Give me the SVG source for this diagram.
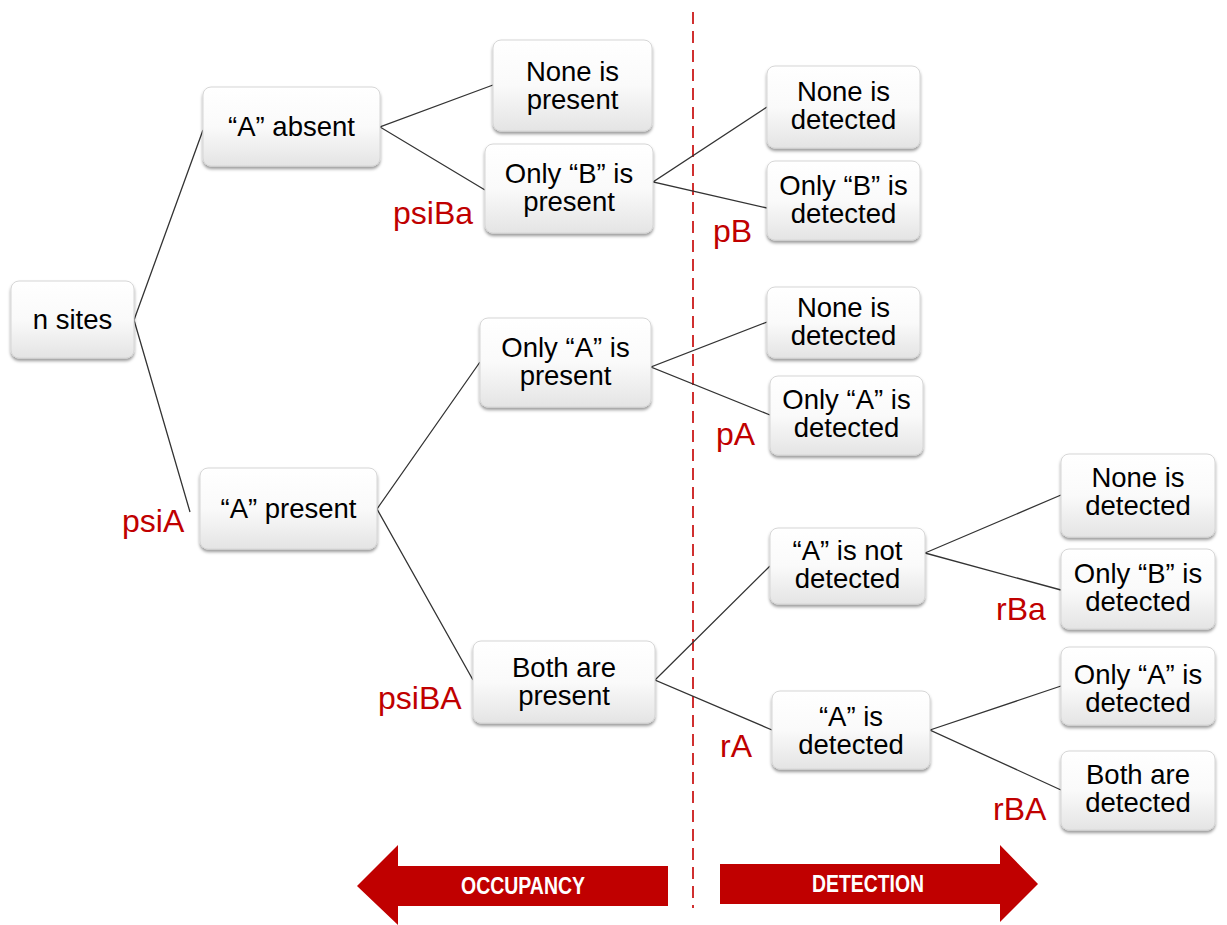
<svg xmlns="http://www.w3.org/2000/svg" width="1227" height="925" viewBox="0 0 1227 925">
<defs>
<linearGradient id="g" x1="0" y1="0" x2="0" y2="1">
<stop offset="0" stop-color="#ffffff"/>
<stop offset="0.5" stop-color="#fafafa"/>
<stop offset="1" stop-color="#e4e4e4"/>
</linearGradient>
<filter id="sh" x="-10%" y="-10%" width="120%" height="130%">
<feDropShadow dx="0" dy="2.5" stdDeviation="1.5" flood-color="#000" flood-opacity="0.4"/>
</filter>
</defs>
<style>
.box{fill:url(#g);stroke:#d6d6d6;stroke-width:1;filter:url(#sh)}
.t{font-family:"Liberation Sans",Arial,sans-serif;font-size:27.5px;fill:#000;text-anchor:middle}
.lab{font-family:"Liberation Sans",Arial,sans-serif;font-size:32px;fill:#c00000}
.c{stroke:#333;stroke-width:1.3;fill:none}
.ar{fill:#c00000}
.at{font-family:"Liberation Sans",Arial,sans-serif;font-size:23px;font-weight:bold;fill:#fff;text-anchor:middle}
</style>
<rect width="1227" height="925" fill="#fff"/>
<line x1="693" y1="12" x2="693" y2="908" stroke="#d03030" stroke-width="2" stroke-dasharray="12,7"/>
<g id="connectors">
<polyline class="c" points="203,130 134,320 190,512"/>
<polyline class="c" points="493,85 380,127 485,190"/>
<polyline class="c" points="767,107 653,182 767,208"/>
<polyline class="c" points="480,362 377,509 473,680"/>
<polyline class="c" points="767,322 651,367 770,415"/>
<polyline class="c" points="770,566 655,680 772,730"/>
<polyline class="c" points="1061,495 925,553 1061,590"/>
<polyline class="c" points="1061,686 930,730 1061,790"/>
</g>
<g id="n-sites"><rect class="box" x="11" y="281" width="123" height="77" rx="8"/><text class="t" x="72.5" y="329">n sites</text></g>
<g id="a-absent"><rect class="box" x="203" y="87" width="177" height="79" rx="8"/><text class="t" x="291.5" y="136">“A” absent</text></g>
<g id="a-present"><rect class="box" x="200" y="468" width="177" height="81" rx="8"/><text class="t" x="288.5" y="518">“A” present</text></g>
<g id="none-present"><rect class="box" x="493" y="40" width="159" height="91" rx="8"/><text class="t" x="572.5" y="81">None is</text><text class="t" x="572.5" y="109">present</text></g>
<g id="onlyb-present"><rect class="box" x="485" y="144" width="168" height="89" rx="8"/><text class="t" x="569" y="183">Only “B” is</text><text class="t" x="569" y="211">present</text></g>
<g id="onlya-present"><rect class="box" x="480" y="318" width="171" height="89" rx="8"/><text class="t" x="565.5" y="357">Only “A” is</text><text class="t" x="565.5" y="385">present</text></g>
<g id="both-present"><rect class="box" x="473" y="641" width="182" height="82" rx="8"/><text class="t" x="564" y="677">Both are</text><text class="t" x="564" y="705">present</text></g>
<g id="none-det-1"><rect class="box" x="767" y="66" width="153" height="82" rx="8"/><text class="t" x="843.5" y="101">None is</text><text class="t" x="843.5" y="129">detected</text></g>
<g id="onlyb-det-1"><rect class="box" x="767" y="161" width="153" height="79" rx="8"/><text class="t" x="843.5" y="195">Only “B” is</text><text class="t" x="843.5" y="223">detected</text></g>
<g id="none-det-2"><rect class="box" x="767" y="287" width="153" height="71" rx="8"/><text class="t" x="843.5" y="317">None is</text><text class="t" x="843.5" y="345">detected</text></g>
<g id="onlya-det-1"><rect class="box" x="770" y="376" width="153" height="79" rx="8"/><text class="t" x="846.5" y="409">Only “A” is</text><text class="t" x="846.5" y="437">detected</text></g>
<g id="a-not-det"><rect class="box" x="770" y="528" width="155" height="76" rx="8"/><text class="t" x="847.5" y="560">“A” is not</text><text class="t" x="847.5" y="588">detected</text></g>
<g id="a-det"><rect class="box" x="772" y="691" width="158" height="78" rx="8"/><text class="t" x="851" y="726">“A” is</text><text class="t" x="851" y="754">detected</text></g>
<g id="none-det-3"><rect class="box" x="1061" y="454" width="154" height="83" rx="8"/><text class="t" x="1138" y="487">None is</text><text class="t" x="1138" y="515">detected</text></g>
<g id="onlyb-det-2"><rect class="box" x="1061" y="549" width="154" height="80" rx="8"/><text class="t" x="1138" y="583">Only “B” is</text><text class="t" x="1138" y="611">detected</text></g>
<g id="onlya-det-2"><rect class="box" x="1061" y="647" width="154" height="78" rx="8"/><text class="t" x="1138" y="684">Only “A” is</text><text class="t" x="1138" y="712">detected</text></g>
<g id="both-det"><rect class="box" x="1061" y="751" width="154" height="79" rx="8"/><text class="t" x="1138" y="784">Both are</text><text class="t" x="1138" y="812">detected</text></g>
<g id="labels">
<text class="lab" x="393" y="224">psiBa</text>
<text class="lab" x="713" y="242">pB</text>
<text class="lab" x="122" y="532">psiA</text>
<text class="lab" x="716" y="445">pA</text>
<text class="lab" x="378" y="709">psiBA</text>
<text class="lab" x="996" y="620">rBa</text>
<text class="lab" x="720" y="757">rA</text>
<text class="lab" x="993" y="820">rBA</text>
</g>
<g id="occupancy-arrow">
<polygon class="ar" points="668,866 398,866 398,845 357,886 398,925 398,906 668,906"/>
<text class="at" x="523" y="894" textLength="124" lengthAdjust="spacingAndGlyphs">OCCUPANCY</text>
</g>
<g id="detection-arrow">
<polygon class="ar" points="720,864 1000,864 1000,845 1038,884 1000,922 1000,904 720,904"/>
<text class="at" x="868" y="892" textLength="112" lengthAdjust="spacingAndGlyphs">DETECTION</text>
</g>
</svg>
